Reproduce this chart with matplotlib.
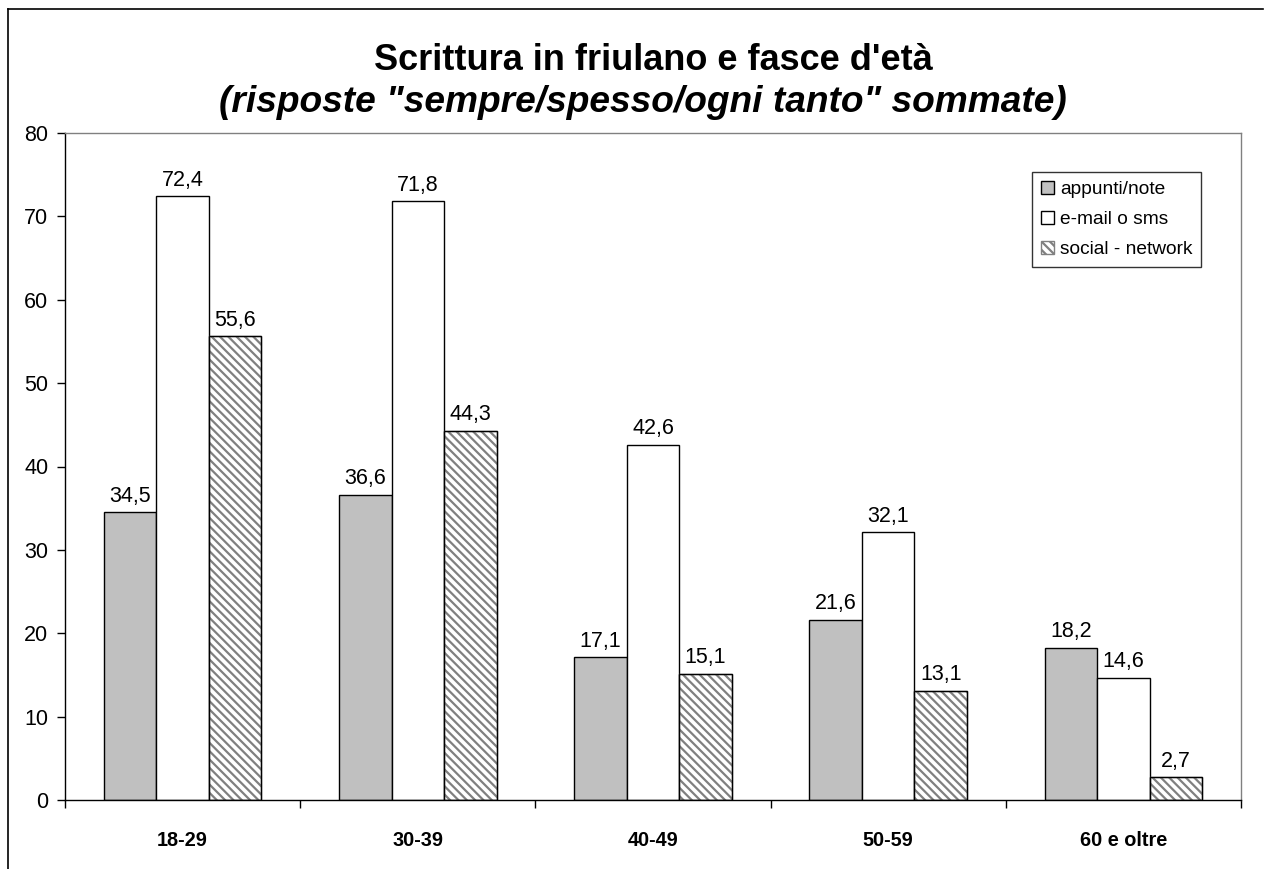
import matplotlib
matplotlib.use("Agg")
import matplotlib.pyplot as plt
import numpy as np
from matplotlib.lines import Line2D

plt.rcParams['font.family'] = ['Liberation Sans', 'DejaVu Sans']
plt.rcParams['hatch.linewidth'] = 1.6

categories = ["18-29", "30-39", "40-49", "50-59", "60 e oltre"]
series_names = ["appunti/note", "e-mail o sms", "social - network"]
appunti = [34.5, 36.6, 17.1, 21.6, 18.2]
email = [72.4, 71.8, 42.6, 32.1, 14.6]
social = [55.6, 44.3, 15.1, 13.1, 2.7]
yticks = [0, 10, 20, 30, 40, 50, 60, 70, 80]

W, H = 1267, 869
fig = plt.figure(figsize=(W / 100, H / 100), dpi=100)
ax = fig.add_axes([65 / W, 1 - 800 / H, (1241 - 65) / W, (800 - 133) / H])

x = np.arange(len(categories))
bw = 0.2233
styles = [
    dict(facecolor="#c0c0c0", edgecolor="black", hatch=None),
    dict(facecolor="white", edgecolor="black", hatch=None),
    dict(facecolor="white", edgecolor="#808080", hatch="\\\\\\\\"),
]
data = [appunti, email, social]
for i, (vals, st, name) in enumerate(zip(data, styles, series_names)):
    ax.bar(x + (i - 1) * bw, vals, width=bw, facecolor=st["facecolor"],
           edgecolor=st["edgecolor"], hatch=st["hatch"], linewidth=1.0,
           label=name, zorder=2)
    if st["hatch"]:
        ax.bar(x + (i - 1) * bw, vals, width=bw, facecolor="none",
               edgecolor="black", linewidth=1.0, zorder=3)
    for xi, v in zip(x + (i - 1) * bw, vals):
        ax.text(xi, v + 0.7, f"{v:.1f}".replace(".", ","), ha="center", va="bottom",
                fontsize=15.5)

ax.set_xlim(-0.5, len(categories) - 0.5)
ax.set_ylim(0, 80)
ax.set_yticks(yticks)
ax.set_yticklabels([str(t) for t in yticks], fontsize=15.5)
ax.set_xticks(x)
ax.set_xticklabels(categories, fontsize=14.3, fontweight="bold")
ax.tick_params(axis="x", length=0, pad=22)
ax.set_xticks(np.arange(len(categories) + 1) - 0.5, minor=True)
ax.tick_params(axis="x", which="minor", length=6, direction="out", width=1)
ax.tick_params(axis="y", length=6, direction="out", width=1, pad=6)

for s in ["left", "bottom"]:
    ax.spines[s].set_color("black")
    ax.spines[s].set_linewidth(1.0)
for s in ["top", "right"]:
    ax.spines[s].set_color("#808080")
    ax.spines[s].set_linewidth(1.0)

leg = ax.legend(loc="upper right", bbox_to_anchor=(1201 / W, 1 - 172 / H),
                bbox_transform=fig.transFigure, fontsize=13.8, frameon=True,
                fancybox=False, edgecolor="black", handlelength=0.7, handleheight=0.7,
                handletextpad=0.3, borderpad=0.45, labelspacing=0.66, borderaxespad=0)
leg.get_frame().set_linewidth(1.0)

fig.text(0.5 * (65 + 1241) / W, 1 - 60 / H, "Scrittura in friulano e fasce d'età",
         ha="center", va="center", fontsize=26, fontweight="bold")
fig.text(0.5 * (65 + 1241) / W - 10 / W, 1 - 103 / H,
         "(risposte \"sempre/spesso/ogni tanto\" sommate)",
         ha="center", va="center", fontsize=26.7, fontweight="bold", style="italic")

fig.add_artist(Line2D([8 / W, 8 / W], [0, 1 - 9 / H], transform=fig.transFigure,
                      color="black", linewidth=1.2))
fig.add_artist(Line2D([8 / W, 1263 / W], [1 - 9 / H, 1 - 9 / H], transform=fig.transFigure,
                      color="black", linewidth=1.2))

fig.savefig("out.png", dpi=100)
